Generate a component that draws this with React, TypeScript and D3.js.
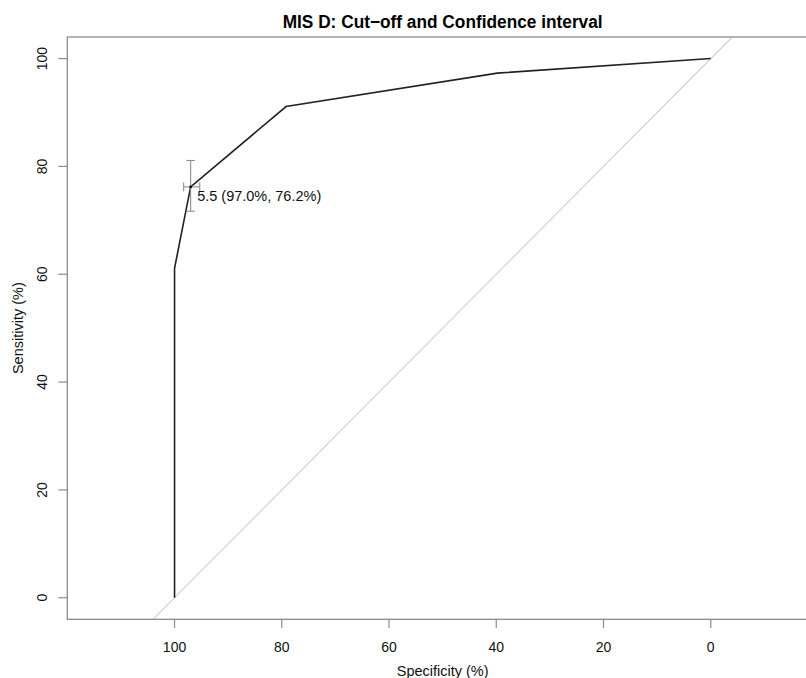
import React from "react";
import * as d3 from "d3";

const specificities = [100, 100, 97.0, 79.2, 39.8, 0];
const sensitivities = [0, 61.1, 76.2, 91.1, 97.3, 100];
const xTicks = [100, 80, 60, 40, 20, 0];
const yTicks = [0, 20, 40, 60, 80, 100];
const thresholdLabel = "5.5 (97.0%, 76.2%)";
const thrSpec = 97.0;
const thrSens = 76.2;
const ciSpec = [95.3, 98.3];
const ciSens = [71.7, 81.1];
const titleText = "MIS D: Cut\u2212off and Confidence interval";

const W = 806;
const H = 678;
const left = 67.3;
const right = 818;
const top = 37;
const bottom = 619.3;

export default function App() {
  const x = d3.scaleLinear().domain([120, -20]).range([left, right]);
  const y = d3.scaleLinear().domain([-4, 104]).range([bottom, top]);
  const pts: [number, number][] = specificities.map((s, i) => [s, sensitivities[i]]);
  const line = d3
    .line<[number, number]>()
    .x((d) => x(d[0]))
    .y((d) => y(d[1]));
  const font = "'Liberation Sans', Arial, Helvetica, sans-serif";
  const axisCol = "#8c8c8c";
  const cap = 4.3;
  const px = x(thrSpec);
  const py = y(thrSens);
  return (
    <svg
      width={W}
      height={H}
      style={{ position: "absolute", left: 0, top: 0, background: "#fff" }}
      fontFamily={font}
    >
      <defs>
        <clipPath id="plotclip">
          <rect x={left} y={top} width={right - left} height={bottom - top} />
        </clipPath>
      </defs>
      <rect x={0} y={0} width={W} height={H} fill="#fff" />
      <text
        x={(left + right) / 2}
        y={28}
        textAnchor="middle"
        fontSize={18}
        fontWeight="bold"
        textLength={320}
        lengthAdjust="spacingAndGlyphs"
        fill="#000"
      >
        {titleText}
      </text>
      {/* diagonal */}
      <line
        clipPath="url(#plotclip)"
        x1={x(104)}
        y1={y(-4)}
        x2={x(-4)}
        y2={y(104)}
        stroke="#cfcfcf"
        strokeWidth={1.1}
      />
      {/* ROC curve */}
      <path d={line(pts) || ""} fill="none" stroke="#222" strokeWidth={1.6} />
      {/* CI bars */}
      <g stroke={axisCol} strokeWidth={1.1} fill="none">
        <line x1={px} x2={px} y1={y(ciSens[0])} y2={y(ciSens[1])} />
        <line x1={px - cap} x2={px + cap} y1={y(ciSens[0])} y2={y(ciSens[0])} />
        <line x1={px - cap} x2={px + cap} y1={y(ciSens[1])} y2={y(ciSens[1])} />
        <line x1={x(ciSpec[0])} x2={x(ciSpec[1])} y1={py} y2={py} />
        <line x1={x(ciSpec[0])} x2={x(ciSpec[0])} y1={py - cap} y2={py + cap} />
        <line x1={x(ciSpec[1])} x2={x(ciSpec[1])} y1={py - cap} y2={py + cap} />
      </g>
      <circle cx={px} cy={py} r={1.3} fill="#000" />
      <text x={px + 6.5} y={py + 13.7} fontSize={14.5} fill="#111">
        {thresholdLabel}
      </text>
      {/* box */}
      <rect
        x={left}
        y={top}
        width={right - left}
        height={bottom - top}
        fill="none"
        stroke={axisCol}
        strokeWidth={1.3}
      />
      {/* x axis */}
      <g>
        {xTicks.map((t) => (
          <g key={"x" + t}>
            <line x1={x(t)} x2={x(t)} y1={bottom} y2={bottom + 8.7} stroke={axisCol} strokeWidth={1.2} />
            <text x={x(t)} y={652} textAnchor="middle" fontSize={14} fill="#111">
              {t}
            </text>
          </g>
        ))}
        <text x={(left + right) / 2} y={676} textAnchor="middle" fontSize={14.5} fill="#111">
          Specificity (%)
        </text>
      </g>
      {/* y axis */}
      <g>
        {yTicks.map((t) => (
          <g key={"y" + t}>
            <line x1={left - 9} x2={left} y1={y(t)} y2={y(t)} stroke={axisCol} strokeWidth={1.2} />
            <text
              transform={`translate(46.5,${y(t)}) rotate(-90)`}
              textAnchor="middle"
              fontSize={14}
              fill="#111"
            >
              {t}
            </text>
          </g>
        ))}
        <text
          transform={`translate(22.7,${(top + bottom) / 2}) rotate(-90)`}
          textAnchor="middle"
          fontSize={14.5}
          fill="#111"
        >
          Sensitivity (%)
        </text>
      </g>
    </svg>
  );
}
